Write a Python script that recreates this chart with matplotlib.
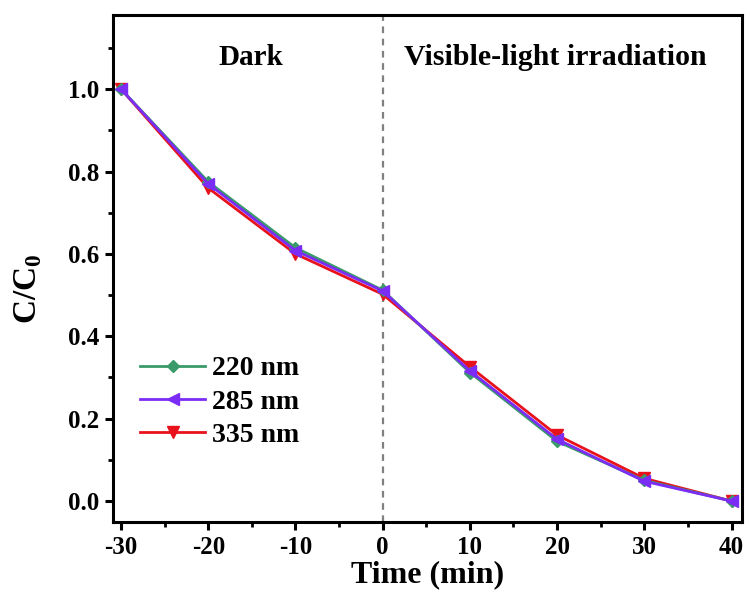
import matplotlib
matplotlib.use("Agg")
import matplotlib.pyplot as plt
from matplotlib.ticker import MultipleLocator

time = [-30, -20, -10, 0, 10, 20, 30, 40]
c220 = [1.0, 0.775, 0.615, 0.512, 0.312, 0.145, 0.050, 0.0]
c285 = [1.0, 0.770, 0.608, 0.510, 0.316, 0.150, 0.048, 0.0]
c335 = [1.0, 0.760, 0.600, 0.502, 0.326, 0.160, 0.055, 0.0]
labels = ["220 nm", "285 nm", "335 nm"]
xticks = [-30, -20, -10, 0, 10, 20, 30, 40]
yticks = [0.0, 0.2, 0.4, 0.6, 0.8, 1.0]

plt.rcParams['font.family'] = ['Liberation Serif', 'DejaVu Serif']
plt.rcParams['font.weight'] = 'bold'
plt.rcParams['axes.unicode_minus'] = False
plt.rcParams['mathtext.fontset'] = 'custom'
plt.rcParams['mathtext.rm'] = 'Liberation Serif:bold'
plt.rcParams['mathtext.bf'] = 'Liberation Serif:bold'

fig = plt.figure(figsize=(7.5, 6.08), dpi=100)
ax = fig.add_axes([0.1507, 0.1414, 0.8386, 0.8339])

ax.axvline(0, color='#808080', linestyle=(0, (3, 2.5)), linewidth=1.6, zorder=1)

l220, = ax.plot(time, c220, color='#3a9a6a', marker='D', markersize=6, linewidth=2, label=labels[0], zorder=3)
l335, = ax.plot(time, c335, color='#e8121c', marker='v', markersize=8, linewidth=2, label=labels[2], zorder=2)
l285, = ax.plot(time, c285, color='#7b2cf5', marker='<', markersize=8, linewidth=2, label=labels[1], zorder=4)

ax.set_xlim(-30.92, 41.2)
ax.set_ylim(-0.051, 1.18)
ax.set_xticks(xticks)
ax.set_xticklabels([str(v) for v in xticks])
ax.xaxis.set_minor_locator(MultipleLocator(5))
ax.set_yticks(yticks)
ax.set_yticklabels([f'{v:.1f}' for v in yticks])
ax.yaxis.set_minor_locator(MultipleLocator(0.1))

for s in ax.spines.values():
    s.set_linewidth(2.2)
ax.tick_params(which='major', direction='out', length=6, width=2.2, labelsize=18, pad=4)
ax.tick_params(which='minor', direction='out', length=3.5, width=2)

ax.set_xlabel('Time (min)', fontsize=23, fontweight='bold', labelpad=1)
ax.set_ylabel(r'C/C$_\mathbf{0}$', fontsize=24, fontweight='bold', va='center')
ax.yaxis.set_label_coords(-0.135, 0.46)

ax.text(-15.1, 1.078, 'Dark', fontsize=21, fontweight='bold', ha='center', va='center')
ax.text(19.8, 1.078, 'Visible-light irradiation', fontsize=21.5, fontweight='bold', ha='center', va='center')

ax.legend([l220, l285, l335], labels, loc='center left', bbox_to_anchor=(0.043, 0.237),
          frameon=False, fontsize=20, handlelength=2.34, handletextpad=0.25,
          labelspacing=0.28, borderaxespad=0, borderpad=0)

fig.savefig('out.png', dpi=100)
